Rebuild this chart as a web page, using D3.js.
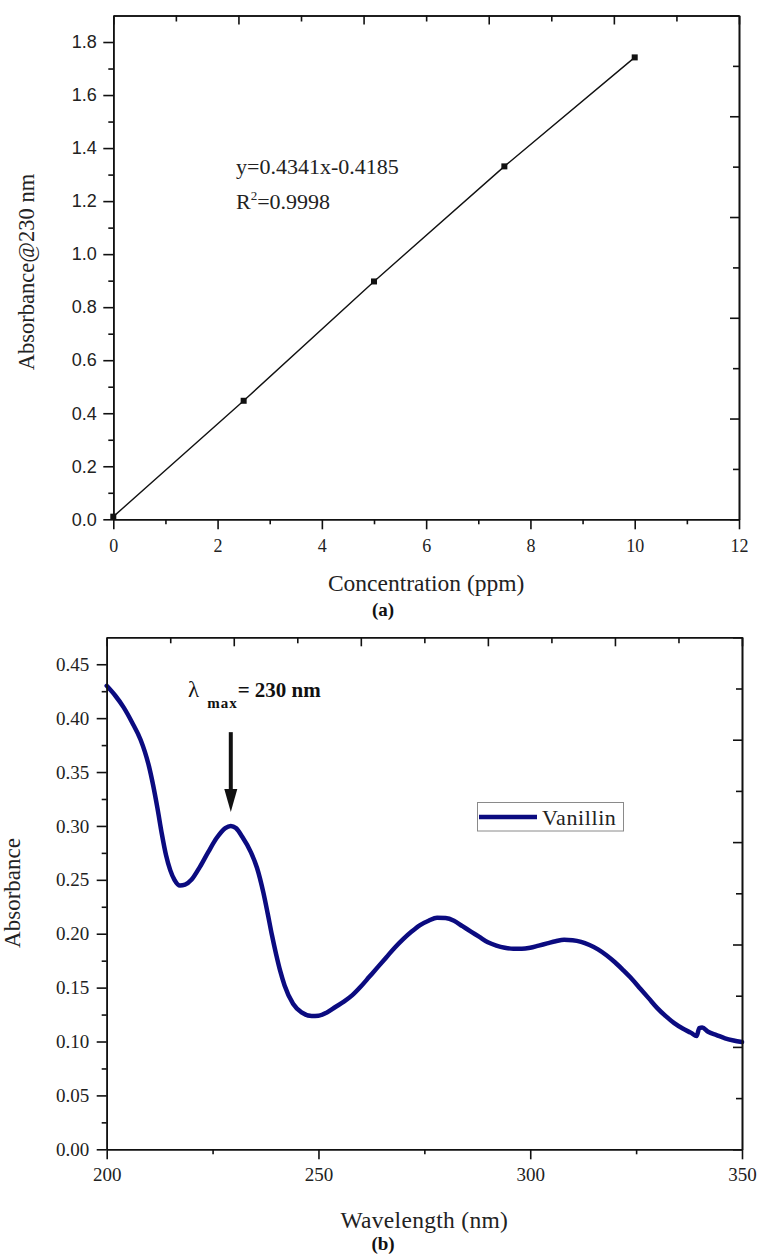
<!DOCTYPE html>
<html>
<head>
<meta charset="utf-8">
<script src="https://cdn.jsdelivr.net/npm/d3@7"></script>
<style>
  html, body { margin: 0; padding: 0; background: #fff; }
  svg { display: block; }
</style>
</head>
<body>
<svg id="fig" width="758" height="1255"></svg>
<script>
// ---- (a) calibration data ----
const concentration = [0, 2.5, 5, 7.5, 10];
const absorbance230 = [0.01, 0.447, 0.897, 1.331, 1.742];
const concTicks = [0, 2, 4, 6, 8, 10, 12];
const concMinorTicks = [1, 3, 5, 7, 9, 11];
const absTicksA = [0, 0.2, 0.4, 0.6, 0.8, 1.0, 1.2, 1.4, 1.6, 1.8];
const absMinorTicksA = [0.1, 0.3, 0.5, 0.7, 0.9, 1.1, 1.3, 1.5, 1.7];
const fitEquation = "y=0.4341x-0.4185";
const fitR2 = "0.9998";

// ---- (b) UV spectrum of vanillin ----
const wavelength = [200, 202, 204, 206, 208, 209, 210, 211, 212, 213, 214, 215, 216, 217.3, 218.5, 220, 222, 224, 226, 228, 229.3, 230.5, 232, 234, 235.5, 237, 238, 239, 240, 241, 242, 244, 246, 248.4, 250, 252, 254, 256, 258, 260, 262, 264, 266, 268, 270, 272, 274, 276, 278, 280, 282, 284, 286, 288, 290, 292, 294, 296, 298, 300, 302, 304, 306, 308, 310, 312, 314, 316, 318, 320, 322, 324, 326, 328, 330, 332, 334, 336, 338, 339.3, 339.9, 340.6, 342, 344, 346, 348, 350];
const absorbanceVanillin = [0.430, 0.421, 0.410, 0.396, 0.380, 0.369, 0.355, 0.337, 0.316, 0.293, 0.273, 0.259, 0.250, 0.2447, 0.2455, 0.250, 0.262, 0.276, 0.289, 0.298, 0.300, 0.298, 0.290, 0.276, 0.261, 0.238, 0.219, 0.199, 0.181, 0.165, 0.152, 0.135, 0.127, 0.1237, 0.124, 0.127, 0.132, 0.137, 0.143, 0.151, 0.160, 0.169, 0.178, 0.187, 0.195, 0.202, 0.208, 0.212, 0.2148, 0.2145, 0.212, 0.207, 0.202, 0.197, 0.192, 0.189, 0.187, 0.186, 0.186, 0.187, 0.189, 0.191, 0.193, 0.1944, 0.194, 0.1925, 0.1895, 0.1855, 0.180, 0.1735, 0.166, 0.158, 0.149, 0.140, 0.131, 0.1235, 0.117, 0.112, 0.108, 0.105, 0.1125, 0.113, 0.109, 0.106, 0.103, 0.101, 0.0995];
const waveTicks = [200, 250, 300, 350];
const waveMinorTicks = [225, 275, 325];
const absTicksB = [0, 0.05, 0.10, 0.15, 0.20, 0.25, 0.30, 0.35, 0.40, 0.45];
const absMinorTicksB = [0.025, 0.075, 0.125, 0.175, 0.225, 0.275, 0.325, 0.375, 0.425];
const seriesName = "Vanillin";
const lambdaMax = 230;           // nm, annotated peak
const arrowAt = 229.3;           // arrow position (nm)
const arrowFrom = 0.387, arrowTo = 0.313;

const SERIF = "'Liberation Serif', 'DejaVu Serif', serif";
const SANS = "'Liberation Sans', Arial, sans-serif";
const NAVY = "#0b0b80";
const FRAME_W = 1.6;

const svg = d3.select("#fig");

// Draws a boxed frame: outward major/minor ticks on bottom/left, inward ticks on top/right
function drawFrame(g, x, y, opts) {
  const [x0, x1] = x.range();
  const [y0, y1] = y.range(); // y0 = bottom, y1 = top
  const styleAxis = sel => {
    sel.select(".domain").attr("stroke", "#111").attr("stroke-width", FRAME_W);
    sel.selectAll(".tick line").attr("stroke", "#111").attr("stroke-width", FRAME_W);
  };

  // bottom
  g.append("g").attr("transform", `translate(0,${y0})`)
    .call(d3.axisBottom(x).tickValues(opts.xMinor).tickSize(5).tickSizeOuter(0).tickFormat(""))
    .call(styleAxis);
  const bx = g.append("g").attr("transform", `translate(0,${y0})`)
    .call(d3.axisBottom(x).tickValues(opts.xTicks).tickSize(10).tickSizeOuter(0)
      .tickPadding(opts.xPad).tickFormat(opts.xFmt))
    .call(styleAxis);
  bx.selectAll("text").attr("font-family", opts.xFont).attr("font-size", opts.xFontSize).attr("fill", "#222");

  // left
  g.append("g").attr("transform", `translate(${x0},0)`)
    .call(d3.axisLeft(y).tickValues(opts.yMinor).tickSize(5).tickSizeOuter(0).tickFormat(""))
    .call(styleAxis);
  const ly = g.append("g").attr("transform", `translate(${x0},0)`)
    .call(d3.axisLeft(y).tickValues(opts.yTicks).tickSize(10).tickSizeOuter(0)
      .tickPadding(opts.yPad).tickFormat(opts.yFmt))
    .call(styleAxis);
  ly.selectAll("text").attr("font-family", opts.yFont).attr("font-size", opts.yFontSize).attr("fill", "#222");

  // top and right: ten equal divisions, inward ticks
  const topScale = d3.scaleLinear().domain([0, 10]).range([x0, x1]);
  const rightScale = d3.scaleLinear().domain([0, 10]).range([y0, y1]);
  const all = d3.range(0, 11);
  const even = all.filter(d => d % 2 === 0), odd = all.filter(d => d % 2 === 1);
  g.append("g").attr("transform", `translate(0,${y1})`)
    .call(d3.axisTop(topScale).tickValues(even).tickSize(-9).tickSizeOuter(0).tickFormat(""))
    .call(styleAxis);
  g.append("g").attr("transform", `translate(0,${y1})`)
    .call(d3.axisTop(topScale).tickValues(odd).tickSize(-6).tickSizeOuter(0).tickFormat(""))
    .call(styleAxis);
  g.append("g").attr("transform", `translate(${x1},0)`)
    .call(d3.axisRight(rightScale).tickValues(even).tickSize(-9).tickSizeOuter(0).tickFormat(""))
    .call(styleAxis);
  g.append("g").attr("transform", `translate(${x1},0)`)
    .call(d3.axisRight(rightScale).tickValues(odd).tickSize(-6).tickSizeOuter(0).tickFormat(""))
    .call(styleAxis);
}

// ================= (a) Calibration curve =================
{
  const g = svg.append("g");
  const x = d3.scaleLinear().domain([0, 12]).range([113.3, 739]);
  const y = d3.scaleLinear().domain([0, 1.9]).range([519.3, 15.5]);

  const pts = concentration.map((c, i) => [c, absorbance230[i]]);
  g.append("path")
    .datum(pts)
    .attr("fill", "none")
    .attr("stroke", "#111")
    .attr("stroke-width", 1.4)
    .attr("d", d3.line().x(d => x(d[0])).y(d => y(d[1])));

  g.selectAll("rect.pt").data(pts).enter().append("rect")
    .attr("class", "pt")
    .attr("x", d => x(d[0]) - 3).attr("y", d => y(d[1]) - 3)
    .attr("width", 6).attr("height", 6)
    .attr("fill", "#111");

  drawFrame(g, x, y, {
    xTicks: concTicks, xMinor: concMinorTicks, xFmt: d3.format("d"),
    xFont: SERIF, xFontSize: 18, xPad: 9.5,
    yTicks: absTicksA, yMinor: absMinorTicksA, yFmt: d3.format(".1f"),
    yFont: SANS, yFontSize: 18, yPad: 6.5
  });

  // fit annotation
  g.append("text")
    .attr("x", 236).attr("y", 174)
    .attr("font-family", SERIF).attr("font-size", 22).attr("fill", "#222")
    .text(fitEquation);
  const r2 = g.append("text")
    .attr("x", 236).attr("y", 209)
    .attr("font-family", SERIF).attr("font-size", 22).attr("fill", "#222");
  r2.append("tspan").text("R");
  r2.append("tspan").attr("font-size", 13).attr("dy", -9).text("2");
  r2.append("tspan").attr("dy", 9).text("=" + fitR2);

  // axis titles
  g.append("text")
    .attr("x", (x.range()[0] + x.range()[1]) / 2).attr("y", 591)
    .attr("text-anchor", "middle")
    .attr("font-family", SERIF).attr("font-size", 23.5).attr("fill", "#222")
    .text("Concentration (ppm)");
  g.append("text")
    .attr("transform", `translate(34,272) rotate(-90)`)
    .attr("text-anchor", "middle")
    .attr("font-family", SERIF).attr("font-size", 22.5).attr("fill", "#222")
    .text("Absorbance@230 nm");

  g.append("text")
    .attr("x", 383).attr("y", 616)
    .attr("text-anchor", "middle")
    .attr("font-family", SERIF).attr("font-size", 19).attr("font-weight", "bold").attr("fill", "#111")
    .text("(a)");
}

// ================= (b) UV spectrum =================
{
  const g = svg.append("g");
  const x = d3.scaleLinear().domain([200, 350]).range([106.7, 742]);
  const y = d3.scaleLinear().domain([0, 0.475]).range([1149.3, 637.3]);

  const pts = wavelength.map((w, i) => [w, absorbanceVanillin[i]]);
  g.append("path")
    .datum(pts)
    .attr("fill", "none")
    .attr("stroke", NAVY)
    .attr("stroke-width", 4.5)
    .attr("stroke-linejoin", "round")
    .attr("stroke-linecap", "round")
    .attr("d", d3.line().x(d => x(d[0])).y(d => y(d[1])).curve(d3.curveMonotoneX));

  drawFrame(g, x, y, {
    xTicks: waveTicks, xMinor: waveMinorTicks, xFmt: d3.format("d"),
    xFont: SERIF, xFontSize: 19, xPad: 8,
    yTicks: absTicksB, yMinor: absMinorTicksB, yFmt: d3.format(".2f"),
    yFont: SERIF, yFontSize: 19, yPad: 7.4
  });

  // legend
  const lg = g.append("g");
  lg.append("rect")
    .attr("x", 477.5).attr("y", 802.5).attr("width", 146).attr("height", 28.5)
    .attr("fill", "#fff").attr("stroke", "#8a8a8a").attr("stroke-width", 1);
  lg.append("line")
    .attr("x1", 479).attr("x2", 537).attr("y1", 817).attr("y2", 817)
    .attr("stroke", NAVY).attr("stroke-width", 4.5);
  lg.append("text")
    .attr("x", 542).attr("y", 824.5)
    .attr("font-family", SERIF).attr("font-size", 22).attr("letter-spacing", 0.6).attr("fill", "#222")
    .text(seriesName);

  // lambda max annotation with arrow
  const ann = g.append("text")
    .attr("x", 188).attr("y", 697)
    .attr("font-family", SERIF).attr("fill", "#111");
  ann.append("tspan").attr("font-size", 23).text("λ");
  ann.append("tspan").attr("dx", 8).attr("dy", 11).attr("font-size", 15).attr("font-weight", "bold")
    .attr("letter-spacing", 1).text("max");
  ann.append("tspan").attr("dy", -11).attr("font-size", 21).attr("font-weight", "bold")
    .text("= " + lambdaMax + " nm");

  const ax = x(arrowAt), ay0 = y(arrowFrom), ay1 = y(arrowTo);
  g.append("line")
    .attr("x1", ax).attr("x2", ax).attr("y1", ay0).attr("y2", ay1 - 20)
    .attr("stroke", "#111").attr("stroke-width", 4);
  g.append("path")
    .attr("d", `M${ax - 6.5},${ay1 - 23} L${ax + 6.5},${ay1 - 23} L${ax},${ay1} Z`)
    .attr("fill", "#111");

  // axis titles
  g.append("text")
    .attr("x", (x.range()[0] + x.range()[1]) / 2).attr("y", 1228)
    .attr("text-anchor", "middle")
    .attr("font-family", SERIF).attr("font-size", 23.5).attr("letter-spacing", 0.3).attr("fill", "#222")
    .text("Wavelength (nm)");
  g.append("text")
    .attr("transform", `translate(20,893) rotate(-90)`)
    .attr("text-anchor", "middle")
    .attr("font-family", SERIF).attr("font-size", 23).attr("fill", "#222")
    .text("Absorbance");

  g.append("text")
    .attr("x", 383).attr("y", 1250)
    .attr("text-anchor", "middle")
    .attr("font-family", SERIF).attr("font-size", 19).attr("font-weight", "bold").attr("fill", "#111")
    .text("(b)");
}
</script>
</body>
</html>
